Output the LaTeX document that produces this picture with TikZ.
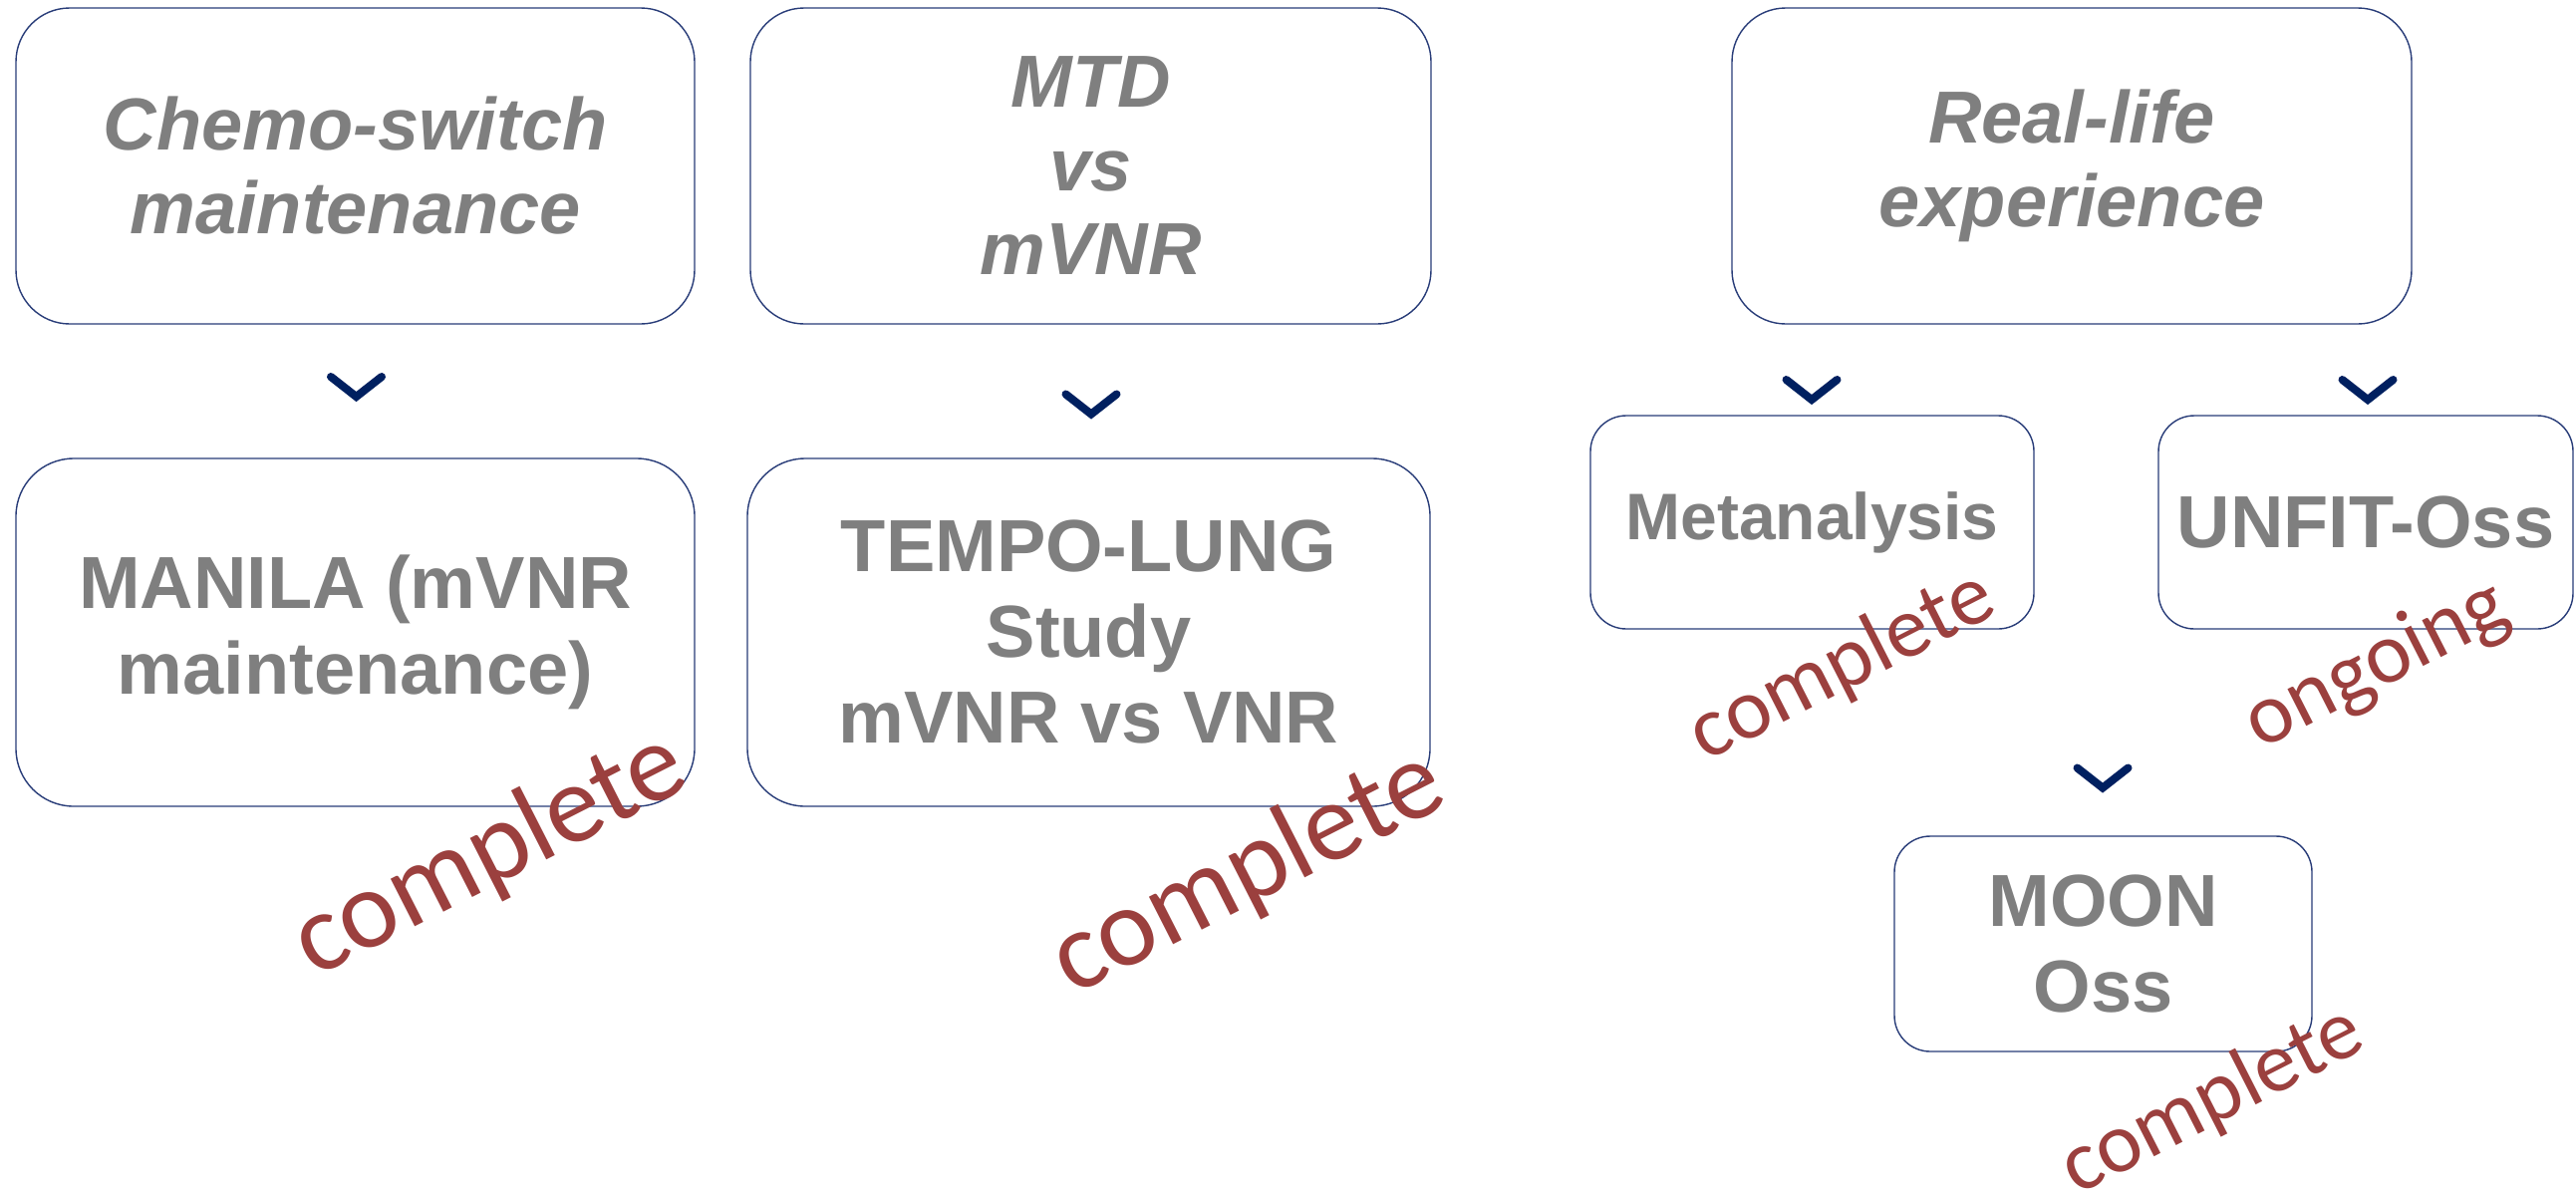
\documentclass[tikz,border=0pt]{standalone}
\usepackage{fontspec}
\setmainfont{Liberation Sans}
\newfontfamily\carlito{Carlito}
\definecolor{boxline}{RGB}{40,60,120}
\definecolor{txtgray}{RGB}{127,127,127}
\definecolor{chevcol}{RGB}{0,32,96}
\definecolor{statcol}{RGB}{155,64,62}
\begin{document}
\begin{tikzpicture}[x=0.5pt,y=-0.5pt,
  box/.style={draw=boxline,line width=0.7pt,fill=white,rounded corners=#1,
    align=center,text=txtgray,inner sep=0pt},
  topfont/.style={font=\fontsize{37}{42}\selectfont\bfseries\itshape},
  bigfont/.style={font=\fontsize{37}{43}\selectfont\bfseries},
  status/.style={text=statcol,inner sep=0pt,rotate=27,
    font=\carlito\fontsize{#1}{#1}\selectfont},
  chevron/.pic={\draw[chevcol,line width=4pt,line cap=round,line join=miter]
    (-25.5,-10) -- (0,10) -- (25.5,-10);}
]
\useasboundingbox (0,0) rectangle (2585,1195);

% top row
\node[box=27pt,topfont,minimum width=340.5pt,minimum height=158.5pt] (A) at (356.5,166.5) {Chemo-switch\\maintenance};
\node[box=27pt,topfont,minimum width=341.5pt,minimum height=158.5pt] (B) at (1094.5,166.5) {MTD\\vs\\mVNR};
\node[box=27pt,topfont,minimum width=341pt,minimum height=158.5pt] (C) at (2079,166.5) {Real-life\\experience};

% second row
\node[box=29pt,bigfont,minimum width=340.5pt,minimum height=174.5pt] (D) at (356.5,634.5) {MANILA (mVNR\\maintenance)};
\node[box=29pt,bigfont,minimum width=342.5pt,minimum height=174.5pt] (E) at (1092.5,634.5) {TEMPO-LUNG\\Study\\mVNR vs VNR};
\node[box=18pt,font=\fontsize{33}{38}\selectfont\bfseries,minimum width=222.5pt,minimum height=107pt] (F) at (1818.5,524) {Metanalysis};
\node[box=18pt,bigfont,minimum width=208pt,minimum height=107pt] (G) at (2374,524) {UNFIT-Oss};
\node[box=18pt,bigfont,minimum width=209.5pt,minimum height=108pt] (H) at (2110.5,947) {MOON\\Oss};

% chevrons
\coordinate (cA) at (357.5,388);
\coordinate (cB) at (1095,405.5);
\coordinate (cC1) at (1818,391);
\coordinate (cC2) at (2376,391);
\coordinate (cH) at (2110,780.5);
\foreach \c in {cA,cB,cC1,cC2,cH} \pic at (\c) {chevron};

% status labels
\node[status=56] (sD) at (492,858) {complete};
\node[status=56] (sE) at (1253,876) {complete};
\node[status=43.5] (sF) at (1849,669) {complete};
\node[status=43.5] (sG) at (2385,668) {ongoing};
\node[status=43] (sH) at (2220,1105) {complete};
\end{tikzpicture}
\end{document}
